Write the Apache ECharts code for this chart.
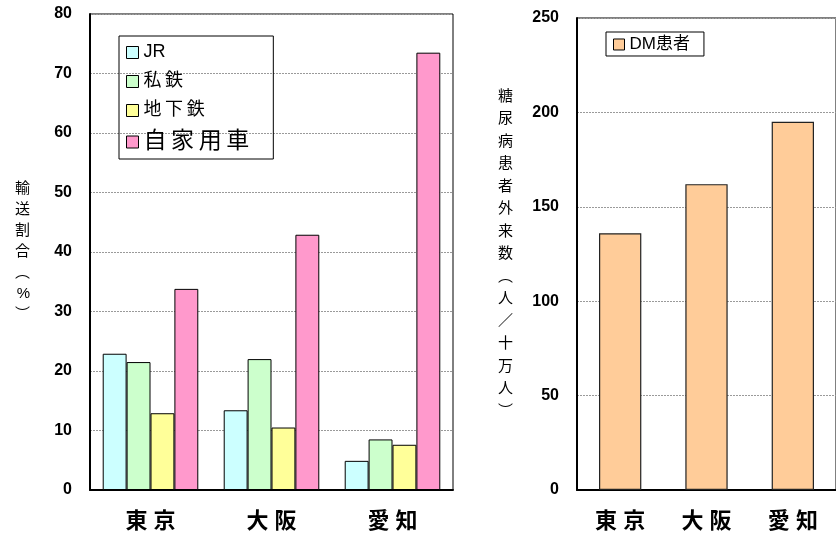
<!DOCTYPE html>
<html lang="ja">
<head>
	<meta charset="UTF-8">
	<title>輸送割合と糖尿病患者外来数</title>
	<style type="text/css">
	body,html{
		width: 100%;
		height: 100%;
		margin: 0;
		padding: 0;
		background: #fff;
	}
	#main{
		width: 836px;
		height: 535px;
	}
	</style>
</head>
<body>
<div id="main"></div>
<script type="text/javascript" src="https://cdn.jsdelivr.net/npm/echarts@6/dist/echarts.min.js"></script>
<script type="text/javascript">
	// data
	var cities = ['東京', '大阪', '愛知'];
	var modes = ['JR', '私鉄', '地下鉄', '自家用車'];
	var jr = [22.9, 13.4, 4.9];
	var shitetsu = [21.5, 22.0, 8.5];
	var chikatetsu = [12.9, 10.5, 7.6];
	var jikayou = [33.8, 42.9, 73.5];
	var dmPatients = [136, 162, 195];
	var shareTicks = [0, 80, 10];
	var dmTicks = [0, 250, 50];

	var font = "'Liberation Sans', 'Noto Sans CJK JP', sans-serif";
	var modeColors = ['#ccffff', '#ccffcc', '#ffff99', '#ff99cc'];
	var modeValues = [jr, shitetsu, chikatetsu, jikayou];

	function vertical(s){
		return s.split('').join('\n');
	}
	// 漢字だけ少し字間をあける
	function spaced(s, sp){
		return /^[A-Za-z]+$/.test(s) ? s : s.split('').join(sp || '\u2009');
	}

	var chart = echarts.init(document.getElementById('main'));

	var gridLine = {show: true, lineStyle: {color: '#9a9a9a', type: [2, 1], width: 1}};
	var tickLabel = {color: '#000', fontSize: 16, fontFamily: font, fontWeight: 'bold', margin: 18};
	var catLabel = {
		color: '#000', fontSize: 22, fontFamily: font, fontWeight: 'bold', margin: 21,
		formatter: function(v){ return spaced(v, ' '); }
	};

	var series = modes.map(function(m, i){
		return {
			name: m,
			type: 'bar',
			xAxisIndex: 0,
			yAxisIndex: 0,
			data: modeValues[i],
			barGap: '0%',
			barCategoryGap: '21%',
			itemStyle: {color: modeColors[i], borderColor: '#000', borderWidth: 1}
		};
	});
	series.push({
		name: 'DM患者',
		type: 'bar',
		xAxisIndex: 1,
		yAxisIndex: 1,
		data: dmPatients,
		barCategoryGap: '51%',
		itemStyle: {color: '#ffcc99', borderColor: '#222', borderWidth: 1.2}
	});

	var option = {
		animation: false,
		backgroundColor: '#fff',
		grid: [
			{left: 90, top: 14, width: 363, height: 476, show: true, borderColor: '#000', borderWidth: 1},
			{left: 577, top: 18, width: 262, height: 472, show: true, borderColor: '#000', borderWidth: 1}
		],
		legend: [{
			data: modes,
			orient: 'vertical',
			left: 119,
			top: 36,
			padding: [6, 24, 4, 7],
			itemGap: 8,
			icon: 'rect',
			itemWidth: 12,
			itemHeight: 12,
			borderColor: '#000',
			borderWidth: 1,
			itemStyle: {borderColor: '#000', borderWidth: 1},
			textStyle: {
				color: '#000', fontSize: 18, fontFamily: font, lineHeight: 21,
				rich: {big: {fontSize: 23, fontFamily: font, color: '#000', lineHeight: 26}}
			},
			formatter: function(name){
				return name === '自家用車' ? '{big|' + spaced(name) + '}' : spaced(name);
			}
		}, {
			data: ['DM患者'],
			left: 606,
			top: 32,
			padding: [4, 14, 3, 7],
			icon: 'rect',
			itemWidth: 11,
			itemHeight: 11,
			borderColor: '#000',
			borderWidth: 1,
			itemStyle: {borderColor: '#000', borderWidth: 1},
			textStyle: {color: '#000', fontSize: 17, fontFamily: font}
		}],
		xAxis: [{
			type: 'category',
			gridIndex: 0,
			data: cities,
			axisLine: {lineStyle: {color: '#000', width: 2}},
			axisTick: {show: false},
			axisLabel: catLabel
		}, {
			type: 'category',
			gridIndex: 1,
			data: cities,
			axisLine: {lineStyle: {color: '#000', width: 2}},
			axisTick: {show: false},
			axisLabel: catLabel
		}],
		yAxis: [{
			type: 'value',
			gridIndex: 0,
			min: shareTicks[0],
			max: shareTicks[1],
			interval: shareTicks[2],
			name: vertical('輸送割合\ufe35%\ufe36'),
			nameLocation: 'middle',
			nameRotate: 0,
			nameGap: 60,
			nameTextStyle: {color: '#000', fontSize: 15, fontFamily: font, lineHeight: 21},
			axisLine: {show: true, lineStyle: {color: '#000', width: 2}},
			axisTick: {show: false},
			axisLabel: tickLabel,
			splitLine: gridLine
		}, {
			type: 'value',
			gridIndex: 1,
			min: dmTicks[0],
			max: dmTicks[1],
			interval: dmTicks[2],
			name: vertical('糖尿病患者外来数\ufe35人／十万人\ufe36'),
			nameLocation: 'middle',
			nameRotate: 0,
			nameGap: 64,
			nameTextStyle: {color: '#000', fontSize: 15, fontFamily: font, lineHeight: 22.5},
			axisLine: {show: true, lineStyle: {color: '#000', width: 2}},
			axisTick: {show: false},
			axisLabel: tickLabel,
			splitLine: gridLine
		}],
		series: series
	};

	chart.setOption(option);
</script>
</body>
</html>
